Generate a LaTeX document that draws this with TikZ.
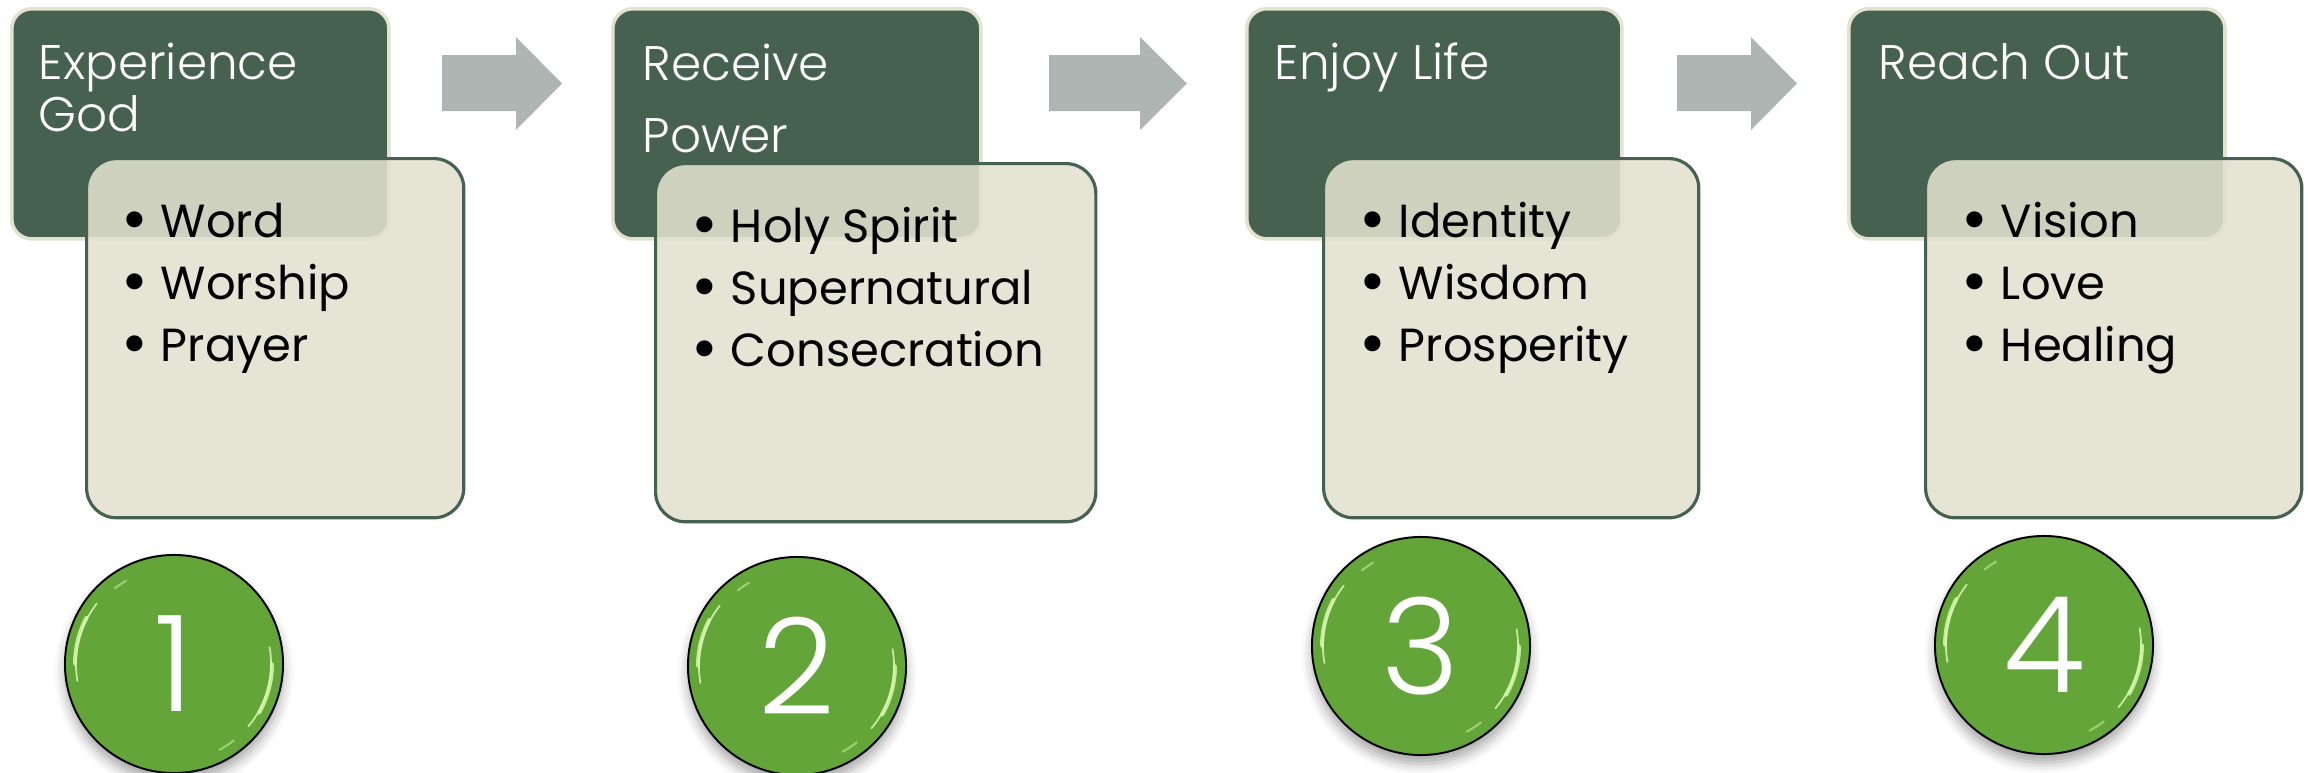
\documentclass[tikz,border=0pt]{standalone}
\usepackage{fontspec}
\usepackage{graphicx}
\setmainfont{Poppins}
\newfontfamily\lightfont{Poppins Light}
\usetikzlibrary{shadows.blur}
\definecolor{dkg}{HTML}{476151}
\definecolor{beigeb}{HTML}{E3E1CF}
\definecolor{lightf}{HTML}{E2E1CF}
\definecolor{arrowg}{HTML}{AFB5B2}
\definecolor{cgreen}{HTML}{64A539}
\definecolor{hlc}{HTML}{D6F8AE}
\newcommand{\bul}{\makebox[8.6pt][l]{\hspace{-2.6pt}\raisebox{-0.1em}{\scalebox{1.4}{\textbullet}}}}
\begin{document}
\begin{tikzpicture}[x=0.01cm,y=-0.01cm,
  darkbox/.style={draw=beigeb, line width=1pt, fill=dkg, rounded corners=5.7pt, anchor=north west, inner sep=0pt},
  lightbox/.style={draw=dkg, line width=0.9pt, fill=lightf, fill opacity=0.88, rounded corners=8.5pt, anchor=north west, inner sep=0pt},
  titletext/.style={text=white, font=\lightfont\fontsize{13.8}{13.8}\selectfont, anchor=base west, inner sep=0pt},
  bullettext/.style={text=black, font=\fontsize{13.2}{13.2}\selectfont, anchor=base west, inner sep=0pt},
  blockarrow/.style={fill=arrowg},
  numcirc/.style={circle, minimum size=2.18cm, inner sep=0pt, fill=cgreen, draw=black, line width=0.55pt, text=white, font=\lightfont\fontsize{38}{38}\selectfont,
    blur shadow={shadow xshift=0pt, shadow yshift=-2.5pt, shadow blur radius=3pt, shadow opacity=35}},
  hl/.style={draw=hlc, line cap=round, opacity=0.85}
]
\useasboundingbox (0,0) rectangle (2308,772);

% ---------- group 1 ----------
\node[darkbox, minimum width=3.77cm, minimum height=2.30cm] (d1) at (10,7) {};
\node[lightbox, minimum width=3.77cm, minimum height=3.59cm] (l1) at (85,157) {};
\node[titletext] (t1a) at (38,79) {Experience};
\node[titletext] (t1b) at (38,131) {God};
\node[bullettext] (b1a) at (130,237) {\bul Word};
\node[bullettext] (b1b) at (130,299) {\bul Worship};
\node[bullettext] (b1c) at (130,361) {\bul Prayer};

% ---------- group 2 ----------
\node[darkbox, minimum width=3.68cm, minimum height=2.30cm] (d2) at (611,7) {};
\node[lightbox, minimum width=4.40cm, minimum height=3.58cm] (l2) at (654,162) {};
\node[titletext] (t2a) at (642,80) {Receive};
\node[titletext] (t2b) at (642,152) {Power};
\node[bullettext] (b2a) at (700,242) {\bul Holy Spirit};
\node[bullettext] (b2b) at (700,304) {\bul Supernatural};
\node[bullettext] (b2c) at (700,366) {\bul Consecration};

% ---------- group 3 ----------
\node[darkbox, minimum width=3.75cm, minimum height=2.30cm] (d3) at (1245,7) {};
\node[lightbox, minimum width=3.75cm, minimum height=3.59cm] (l3) at (1322,157) {};
\node[titletext] (t3a) at (1274,79) {Enjoy Life};
\node[bullettext] (b3a) at (1368,237) {\bul Identity};
\node[bullettext] (b3b) at (1368,299) {\bul Wisdom};
\node[bullettext] (b3c) at (1368,361) {\bul Prosperity};

% ---------- group 4 ----------
\node[darkbox, minimum width=3.76cm, minimum height=2.30cm] (d4) at (1847,7) {};
\node[lightbox, minimum width=3.76cm, minimum height=3.59cm] (l4) at (1924,157) {};
\node[titletext] (t4a) at (1878,79) {Reach Out};
\node[bullettext] (b4a) at (1970,237) {\bul Vision};
\node[bullettext] (b4b) at (1970,299) {\bul Love};
\node[bullettext] (b4c) at (1970,361) {\bul Healing};

% ---------- block arrows ----------
\fill[blockarrow] (442,55) -- (516,55) -- (516,37) -- (562,83.5) -- (516,130) -- (516,111) -- (442,111) -- cycle;
\fill[blockarrow] (1049,55) -- (1140,55) -- (1140,37) -- (1187,83.5) -- (1140,130) -- (1140,111) -- (1049,111) -- cycle;
\fill[blockarrow] (1677,55) -- (1751,55) -- (1751,37) -- (1797,83.5) -- (1751,130) -- (1751,111) -- (1677,111) -- cycle;

% ---------- numbered circles ----------
\node[numcirc] (c1) at (174,664) {1};
\node[numcirc] (c2) at (797,666) {2};
\node[numcirc] (c3) at (1421,646) {3};
\node[numcirc] (c4) at (2044,645) {4};

\foreach \c in {c1,c2,c3,c4}{
  \begin{scope}[shift={(\c.center)}, x=1cm, y=1cm]
    \draw[hl, line width=0.5pt] (142:0.98) arc[start angle=142, end angle=190, radius=0.98];
    \draw[hl, line width=1.1pt] (152:0.99) arc[start angle=152, end angle=180, radius=0.99];
    \draw[hl, line width=0.5pt] (10:0.97) arc[start angle=10, end angle=-40, radius=0.97];
    \draw[hl, line width=1.1pt] (0:0.98) arc[start angle=0, end angle=-30, radius=0.98];
    \draw[hl, line width=0.6pt, opacity=0.5] (120:0.96) arc[start angle=120, end angle=128, radius=0.96];
    \draw[hl, line width=0.6pt, opacity=0.5] (-52:0.97) arc[start angle=-52, end angle=-62, radius=0.97];
  \end{scope}
}
\end{tikzpicture}
\end{document}
